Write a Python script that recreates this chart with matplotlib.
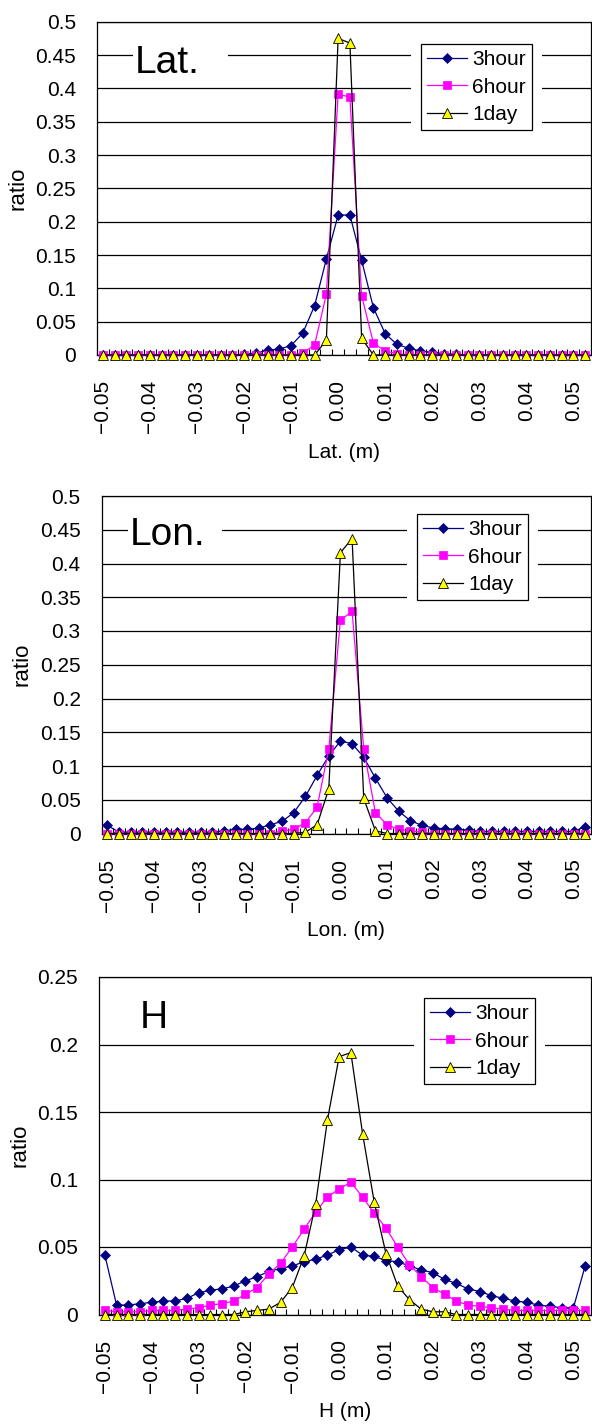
import matplotlib
matplotlib.use("Agg")
import matplotlib.pyplot as plt
import numpy as np
from matplotlib.patches import Rectangle

plt.rcParams["font.family"] = ["Liberation Sans", "DejaVu Sans"]

# ---------------------------------------------------------------------------
# Data: 42 bins per panel (bin labels every 4th bin, step 0.0025 m)
# ---------------------------------------------------------------------------
tick_labels = ["\u22120.05", "\u22120.04", "\u22120.03", "\u22120.02", "\u22120.01",
               "0.00", "0.01", "0.02", "0.03", "0.04", "0.05"]
series_names = ["3hour", "6hour", "1day"]

lat_3hour = [0, 0, 0, 0, 0, 0, 0, 0, 0, 0, 0, 0,
             0.001, 0.003, 0.007, 0.009, 0.014, 0.033, 0.074, 0.144, 0.210, 0.210,
             0.142, 0.071, 0.032, 0.016, 0.010, 0.006, 0.004, 0.002, 0.001,
             0, 0, 0, 0, 0, 0, 0, 0, 0, 0, 0]
lat_6hour = [0, 0, 0, 0, 0, 0, 0, 0, 0, 0, 0, 0, 0, 0, 0, 0, 0,
             0.003, 0.015, 0.091, 0.391, 0.387, 0.089, 0.018, 0.006, 0.002,
             0, 0, 0, 0, 0, 0, 0, 0, 0, 0, 0, 0, 0, 0, 0, 0]
lat_1day = [0, 0, 0, 0, 0, 0, 0, 0, 0, 0, 0, 0, 0, 0, 0, 0, 0, 0, 0,
            0.022, 0.475, 0.468, 0.025,
            0, 0, 0, 0, 0, 0, 0, 0, 0, 0, 0, 0, 0, 0, 0, 0, 0, 0, 0]

lon_3hour = [0.012, 0.002, 0.002, 0.002, 0.002, 0.002, 0.002, 0.002, 0.002, 0.002,
             0.004, 0.006, 0.006, 0.008, 0.013, 0.018, 0.031, 0.055, 0.086, 0.115,
             0.137, 0.133, 0.113, 0.082, 0.053, 0.033, 0.019, 0.012, 0.008, 0.007,
             0.006, 0.005, 0.003, 0.003, 0.003, 0.003, 0.003, 0.003, 0.003, 0.003,
             0.003, 0.010]
lon_6hour = [0, 0, 0, 0, 0, 0, 0, 0, 0, 0, 0, 0, 0, 0, 0,
             0.004, 0.006, 0.016, 0.039, 0.125, 0.316, 0.329, 0.125, 0.031, 0.013,
             0.006, 0.004, 0.002,
             0, 0, 0, 0, 0, 0, 0, 0, 0, 0, 0, 0, 0, 0]
lon_1day = [0, 0, 0, 0, 0, 0, 0, 0, 0, 0, 0, 0, 0, 0, 0, 0, 0,
            0.002, 0.013, 0.066, 0.416, 0.437, 0.052, 0.004,
            0, 0, 0, 0, 0, 0, 0, 0, 0, 0, 0, 0, 0, 0, 0, 0, 0, 0]

h_3hour = [0.044, 0.007, 0.007, 0.008, 0.009, 0.010, 0.010, 0.012, 0.016, 0.018,
           0.019, 0.021, 0.025, 0.028, 0.032, 0.034, 0.036, 0.039, 0.041, 0.044,
           0.048, 0.050, 0.044, 0.043, 0.040, 0.039, 0.036, 0.033, 0.031, 0.026,
           0.023, 0.019, 0.017, 0.014, 0.012, 0.010, 0.009, 0.007, 0.006, 0.005,
           0.005, 0.036]
h_6hour = [0.003, 0.002, 0.002, 0.002, 0.003, 0.003, 0.003, 0.004, 0.005, 0.007,
           0.008, 0.010, 0.015, 0.020, 0.030, 0.038, 0.050, 0.063, 0.076, 0.087,
           0.093, 0.098, 0.087, 0.075, 0.064, 0.050, 0.037, 0.028, 0.020, 0.015,
           0.010, 0.007, 0.006, 0.005, 0.004, 0.003, 0.003, 0.003, 0.003, 0.003,
           0.003, 0.003]
h_1day = [0, 0, 0, 0, 0, 0, 0, 0, 0, 0, 0, 0,
          0.002, 0.003, 0.004, 0.009, 0.020, 0.043, 0.082, 0.144, 0.191, 0.194,
          0.134, 0.083, 0.045, 0.021, 0.011, 0.004, 0.002, 0.002,
          0, 0, 0, 0, 0, 0, 0, 0, 0, 0, 0, 0]

lat_series = [lat_3hour, lat_6hour, lat_1day]
lon_series = [lon_3hour, lon_6hour, lon_1day]
h_series = [h_3hour, h_6hour, h_1day]

# ---------------------------------------------------------------------------
# Style
# ---------------------------------------------------------------------------
W, H = 592, 1425
STYLES = [
    dict(color="#000080", marker="D", ms=5.0, mfc="#000080", mec="#000080", mew=0.5),
    dict(color="#FF00FF", marker="s", ms=5.8, mfc="#FF00FF", mec="#FF00FF", mew=0.5),
    dict(color="black", marker="^", ms=6.8, mfc="#FFFF00", mec="black", mew=0.6),
]
FS = 15


def make_panel(fig, box, series, ymax, ylabels, title, xlabel,
               title_xy, legend_xy, title_rect=None):
    left, right, top, bottom = box
    ax = fig.add_axes([left / W, (H - bottom) / H, (right - left) / W, (bottom - top) / H])
    n = len(series[0])
    x = np.arange(n)
    lines = []
    for vals, name, st in zip(series, series_names, STYLES):
        ln, = ax.plot(x, vals, lw=0.9, label=name, clip_on=False, zorder=3, **st)
        lines.append(ln)

    ax.set_xlim(-0.5, n - 0.5)
    ax.set_ylim(0, ymax)
    yt = np.linspace(0, ymax, len(ylabels))
    ax.set_yticks(yt)
    ax.set_yticklabels(ylabels, fontsize=FS)
    ax.tick_params(axis="y", length=0, pad=15)
    ax.set_xticks(np.arange(0, n, 4))
    ax.set_xticklabels(tick_labels, rotation=90, fontsize=FS)
    ax.set_xticks(np.arange(-0.5, n, 1), minor=True)
    ax.tick_params(axis="x", which="major", length=0, pad=18)
    ax.tick_params(axis="x", which="minor", direction="in", length=4.5, width=0.8)
    ax.set_axisbelow(True)
    ax.grid(axis="y", color="black", lw=0.9)
    for sp in ax.spines.values():
        sp.set_color("black")
        sp.set_linewidth(0.9)
    ax.set_ylabel("ratio", fontsize=16, labelpad=5)
    ax.set_xlabel(xlabel, fontsize=15, labelpad=7)

    if title_rect is not None:
        ax.add_patch(Rectangle(title_rect[:2], title_rect[2], title_rect[3],
                               transform=ax.transAxes, facecolor="white",
                               edgecolor="none", zorder=1.5))
    ax.text(title_xy[0], title_xy[1], title, transform=ax.transAxes,
            fontsize=28, ha="left", va="baseline", zorder=4)

    leg = ax.legend(handles=lines, loc="upper left", bbox_to_anchor=legend_xy,
                    borderaxespad=0, fontsize=FS, frameon=True, fancybox=False,
                    edgecolor="black", framealpha=1, handlelength=1.9,
                    handletextpad=0.25, labelspacing=0.4, borderpad=0.3,
                    numpoints=1)
    leg.get_frame().set_linewidth(0.9)
    leg.set_zorder(5)
    fig.canvas.draw()
    bb = leg.get_window_extent()
    ax.add_patch(Rectangle((bb.x0 - 10, bb.y0 - 10), bb.width + 20, bb.height + 20,
                           transform=None, facecolor="white", edgecolor="none",
                           zorder=1.5))
    return ax


fig = plt.figure(figsize=(W / 100, H / 100), dpi=100)
fig.patch.set_facecolor("white")

ylab_05 = ["0", "0.05", "0.1", "0.15", "0.2", "0.25", "0.3", "0.35", "0.4", "0.45", "0.5"]
ylab_025 = ["0", "0.05", "0.1", "0.15", "0.2", "0.25"]

make_panel(fig, (97, 591, 21.7, 355), lat_series, 0.5, ylab_05, "Lat.", "Lat. (m)",
           (0.077, 0.846), (0.656, 0.933), title_rect=(0.073, 0.819, 0.192, 0.156))
make_panel(fig, (101.5, 591, 496, 833.5), lon_series, 0.5, ylab_05, "Lon.", "Lon. (m)",
           (0.058, 0.855), (0.6445, 0.9467), title_rect=(0.054, 0.810, 0.192, 0.163))
make_panel(fig, (99, 591, 977, 1314.5), h_series, 0.25, ylab_025, "H", "H (m)",
           (0.083, 0.849), (0.6606, 0.9378))

fig.savefig("out.png", dpi=100, facecolor="white")
